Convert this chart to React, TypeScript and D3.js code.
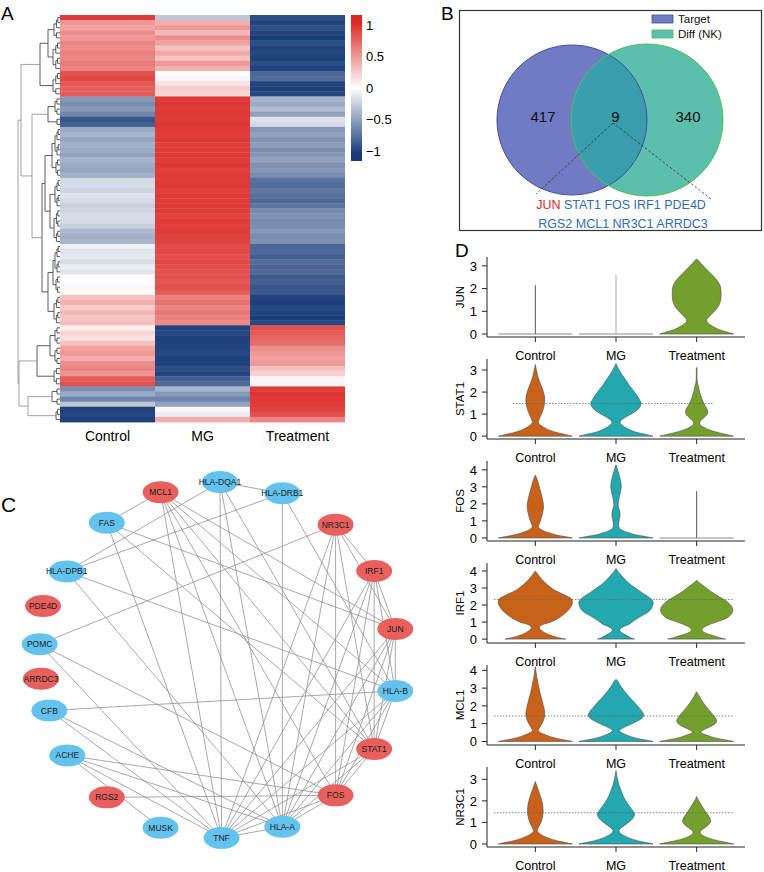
import React from 'react';
import * as d3 from 'd3';

const FONT = "'Liberation Sans', Arial, Helvetica, sans-serif";

// ---------------- Panel A : heatmap ----------------
const HM_GROUPS = ['Control', 'MG', 'Treatment'];
const HM_CONTROL = [
  0.95,
  0.5, 0.45, 0.55, 0.5, 0.6, 0.55, 0.62, 0.58, 0.65, 0.6,
  0.85, 0.9, 0.82, 0.78, 0.8,
  -0.55, -0.6, -0.55, -0.65, -0.9, -0.85,
  -0.45, -0.4, -0.48, -0.42, -0.45, -0.5, -0.4, -0.45, -0.48, -0.42,
  -0.2, -0.18, -0.22, -0.15, -0.2, -0.25, -0.22, -0.18, -0.2, -0.25, -0.38, -0.42, -0.4,
  -0.08, -0.15, -0.12, -0.18, -0.1, -0.14,
  0.03, 0, 0.05, 0.02,
  0.3, 0.38, 0.25, 0.35, 0.28, 0.32,
  0.08, 0.2, 0.15, 0.3,
  0.45, 0.5, 0.4, 0.55, 0.6, 0.52, 0.8, 0.85,
  -0.6, -0.45, -0.65, -0.3,
  -1.0, -0.98, -1.02,
];
const HM_MG = [
  -0.3,
  0.4, 0.5, 0.35, 0.55, 0.45, 0.3, 0.42, 0.3, 0.5, 0.38,
  0.02, -0.05, 0.15, 0.25, 0.2,
  0.95, 0.98, 0.95, 0.97, 0.95, 0.98,
  0.96, 0.95, 0.98, 0.94, 0.96, 0.97, 0.95, 0.98, 0.94, 0.96,
  0.95, 0.97, 0.94, 0.96, 0.95, 0.97, 0.95, 0.93, 0.96, 0.94, 0.95, 0.93, 0.92,
  0.88, 0.9, 0.86, 0.9, 0.87, 0.85,
  0.85, 0.82, 0.86, 0.8,
  0.62, 0.68, 0.6, 0.66, 0.62, 0.58,
  -1.0, -0.98, -1.02, -1.0,
  -1.0, -0.98, -1.02, -1.0, -0.95, -1.0, -0.85, -0.8,
  -0.4, -0.55, -0.65, -0.5,
  0.05, -0.1, 0.4,
];
const HM_TREAT = [
  -0.95,
  -1.0, -0.95, -1.0, -1.05, -0.95, -1.0, -0.98, -1.02, -0.95, -1.0,
  -0.8, -0.78, -1.0, -1.02, -0.98,
  -0.4, -0.45, -0.35, -0.5, -0.15, -0.2,
  -0.55, -0.5, -0.58, -0.52, -0.6, -0.55, -0.5, -0.58, -0.55, -0.6,
  -0.75, -0.78, -0.72, -0.76, -0.8, -0.74, -0.62, -0.58, -0.62, -0.6, -0.55, -0.6, -0.58,
  -0.82, -0.8, -0.85, -0.78, -0.82, -0.8,
  -0.88, -0.85, -0.9, -0.88,
  -1.0, -1.02, -0.98, -1.0, -1.03, -0.98,
  0.85, 0.8, 0.75, 0.72,
  0.55, 0.5, 0.45, 0.5, 0.3, 0.22, 0.05, -0.05,
  0.95, 0.98, 0.96, 0.95,
  0.92, 0.85, 0.6,
];
const HM_COLUMNS = [HM_CONTROL, HM_MG, HM_TREAT];
const CB_TICKS = [1, 0.5, 0, -0.5, -1];
const CB_LABELS = ['1', '0.5', '0', '\u22120.5', '\u22121'];

// dendrogram: merge heights, leaf blocks [firstRow, lastRow, height]
type DN = { h: number; c?: DN[]; row?: number };
const blk = (a: number, e: number, h: number): DN => {
  if (a === e) return { h: 0, row: a };
  const m = Math.floor((a + e) / 2);
  return { h, c: [blk(a, m, h * 0.6), blk(m + 1, e, h * 0.6)] };
};
const nd = (h: number, c: DN[]): DN => ({ h, c });
const DENDRO: DN = nd(42, [
  nd(39, [
    nd(20, [nd(12, [blk(0, 4, 6), blk(5, 10, 7)]), blk(11, 15, 7)]),
    nd(28, [
      nd(12, [blk(16, 19, 5), blk(20, 21, 3)]),
      nd(18, [
        nd(15, [nd(8, [blk(22, 27, 5), blk(28, 31, 4)]), nd(10, [blk(32, 37, 5), blk(38, 44, 6)])]),
        nd(12, [nd(7, [blk(45, 50, 5), blk(51, 54, 4)]), blk(55, 60, 6)]),
      ]),
    ]),
  ]),
  nd(41, [
    nd(23, [nd(10, [blk(61, 64, 5), blk(65, 68, 5)]), blk(69, 72, 6)]),
    nd(32, [nd(8, [blk(73, 74, 3), blk(75, 76, 3)]), blk(77, 79, 4)]),
  ]),
]);

// ---------------- Panel B : venn ----------------
const VENN_SETS = ['Target', 'Diff (NK)'];
const VENN_COUNTS = [417, 9, 340];
const VENN_GENES_1 = ['JUN', 'STAT1', 'FOS', 'IRF1', 'PDE4D'];
const VENN_GENES_2 = ['RGS2', 'MCL1', 'NR3C1', 'ARRDC3'];

// ---------------- Panel C : network ----------------
// name, angle on layout circle (deg, clockwise from +x), radius, kind
const NET_NODES: [string, number, number, string][] = [
  ['HLA-DQA1', -90, 178, 'b'],
  ['HLA-DRB1', -69.5, 178, 'b'],
  ['NR3C1', -49.5, 178, 'r'],
  ['IRF1', -30, 178, 'r'],
  ['JUN', -10, 178, 'r'],
  ['HLA-B', 10, 178, 'b'],
  ['STAT1', 30, 178, 'r'],
  ['FOS', 49.5, 178, 'r'],
  ['HLA-A', 69.5, 178, 'b'],
  ['TNF', 89.5, 178, 'b'],
  ['MUSK', 109.5, 178, 'b'],
  ['RGS2', 129.5, 178, 'r'],
  ['ACHE', 148, 180, 'b'],
  ['CFB', 163.5, 178, 'b'],
  ['ARRDC3', 174, 180, 'r'],
  ['POMC', 185, 181, 'b'],
  ['PDE4D', 197, 185, 'r'],
  ['HLA-DPB1', 210, 177, 'b'],
  ['FAS', 230.5, 178, 'b'],
  ['MCL1', 250.5, 178, 'r'],
];
const NET_EDGES: [string, string][] = [
  ['MCL1', 'FAS'], ['HLA-DQA1', 'HLA-DRB1'], ['HLA-DQA1', 'HLA-DPB1'], ['HLA-DRB1', 'HLA-DPB1'],
  ['HLA-DQA1', 'TNF'], ['HLA-DQA1', 'HLA-A'], ['HLA-DQA1', 'STAT1'], ['HLA-DRB1', 'HLA-A'], ['HLA-DRB1', 'HLA-B'],
  ['HLA-DPB1', 'HLA-A'], ['HLA-DPB1', 'HLA-B'], ['MCL1', 'TNF'], ['MCL1', 'HLA-A'], ['MCL1', 'FOS'],
  ['MCL1', 'STAT1'], ['MCL1', 'JUN'], ['MCL1', 'HLA-B'], ['FAS', 'TNF'], ['FAS', 'JUN'], ['FAS', 'STAT1'],
  ['POMC', 'NR3C1'], ['POMC', 'TNF'], ['POMC', 'FOS'], ['CFB', 'HLA-B'], ['CFB', 'HLA-A'], ['CFB', 'TNF'],
  ['ACHE', 'FOS'], ['ACHE', 'TNF'], ['ACHE', 'HLA-A'], ['ACHE', 'MUSK'], ['RGS2', 'FOS'],
  ['NR3C1', 'IRF1'], ['NR3C1', 'JUN'], ['NR3C1', 'FOS'], ['NR3C1', 'STAT1'], ['NR3C1', 'HLA-A'], ['NR3C1', 'TNF'],
  ['IRF1', 'JUN'], ['IRF1', 'HLA-B'], ['IRF1', 'STAT1'], ['IRF1', 'FOS'], ['IRF1', 'HLA-A'], ['IRF1', 'TNF'],
  ['JUN', 'HLA-B'], ['JUN', 'STAT1'], ['JUN', 'FOS'], ['JUN', 'HLA-A'], ['JUN', 'TNF'],
  ['HLA-B', 'STAT1'], ['HLA-B', 'FOS'], ['HLA-B', 'HLA-A'], ['HLA-B', 'TNF'],
  ['STAT1', 'FOS'], ['STAT1', 'HLA-A'], ['STAT1', 'TNF'], ['FOS', 'HLA-A'], ['FOS', 'TNF'], ['HLA-A', 'TNF'],
];

// ---------------- Panel D : violins ----------------
const VIO_GROUPS = ['Control', 'MG', 'Treatment'];
const VIO_GENES = ['JUN', 'STAT1', 'FOS', 'IRF1', 'MCL1', 'NR3C1'];
const VIO_YMIN = [-0.13, -0.13, -0.18, -0.23, -0.2, -0.14];
const VIO_YMAX = [3.39, 3.5, 4.52, 4.47, 4.3, 3.57];
const VIO_TICKS = [[0, 1, 2, 3], [0, 1, 2, 3], [0, 1, 2, 3, 4], [0, 1, 2, 3, 4], [0, 1, 2, 3, 4], [0, 1, 2, 3]];
const VIO_REFLINE: (number | null)[] = [null, 1.48, null, 2.33, 1.43, 1.45];
// profiles: [expression, relative half-width]; a plain number = all zeros with a single max value
const JUN_T = [[0, 1], [0.1, 0.8], [0.2, 0.6], [0.35, 0.42], [0.5, 0.3], [0.62, 0.27], [0.75, 0.33], [0.95, 0.45], [1.2, 0.58], [1.5, 0.65], [1.8, 0.66], [2.1, 0.64], [2.3, 0.58], [2.5, 0.48], [2.7, 0.36], [2.9, 0.24], [3.1, 0.12], [3.25, 0.04], [3.3, 0]];
const STAT1_C = [[0, 1], [0.1, 0.75], [0.2, 0.5], [0.35, 0.28], [0.5, 0.14], [0.62, 0.08], [0.75, 0.1], [0.95, 0.15], [1.2, 0.21], [1.5, 0.25], [1.8, 0.25], [2.1, 0.2], [2.4, 0.13], [2.7, 0.07], [3.0, 0.03], [3.25, 0]];
const STAT1_M = [[0, 1], [0.1, 0.75], [0.2, 0.5], [0.35, 0.3], [0.5, 0.16], [0.62, 0.11], [0.75, 0.16], [0.9, 0.3], [1.1, 0.5], [1.3, 0.64], [1.5, 0.68], [1.7, 0.62], [2.0, 0.5], [2.3, 0.36], [2.6, 0.24], [2.9, 0.12], [3.15, 0.04], [3.3, 0]];
const STAT1_T = [[0, 1], [0.1, 0.75], [0.2, 0.5], [0.35, 0.25], [0.5, 0.1], [0.6, 0.08], [0.75, 0.14], [0.9, 0.24], [1.05, 0.3], [1.2, 0.29], [1.4, 0.22], [1.7, 0.14], [2.0, 0.08], [2.3, 0.04], [2.5, 0.015], [3.1, 0.006], [3.12, 0]];
const FOS_C = [[0, 1], [0.1, 0.75], [0.2, 0.52], [0.35, 0.3], [0.5, 0.15], [0.65, 0.08], [0.8, 0.1], [1.1, 0.15], [1.5, 0.2], [1.8, 0.22], [2.1, 0.21], [2.5, 0.17], [2.9, 0.12], [3.3, 0.07], [3.55, 0.03], [3.7, 0]];
const FOS_M = [[0, 1], [0.1, 0.75], [0.2, 0.5], [0.35, 0.28], [0.5, 0.13], [0.62, 0.08], [0.8, 0.07], [1.1, 0.09], [1.4, 0.11], [1.65, 0.09], [1.9, 0.06], [2.2, 0.07], [2.6, 0.11], [3.0, 0.14], [3.4, 0.12], [3.8, 0.07], [4.1, 0.03], [4.3, 0]];
const IRF1_C = [[0, 0.82], [0.1, 0.6], [0.25, 0.38], [0.45, 0.2], [0.65, 0.11], [0.8, 0.15], [1.0, 0.42], [1.2, 0.6], [1.5, 0.8], [1.8, 0.93], [2.1, 1.0], [2.35, 0.98], [2.6, 0.78], [2.9, 0.5], [3.2, 0.32], [3.5, 0.18], [3.8, 0.07], [4.0, 0]];
const IRF1_M = [[0, 0.5], [0.1, 0.38], [0.25, 0.25], [0.4, 0.14], [0.55, 0.1], [0.7, 0.18], [0.9, 0.38], [1.1, 0.5], [1.35, 0.68], [1.6, 0.88], [1.9, 0.98], [2.2, 1.0], [2.45, 0.9], [2.7, 0.72], [3.0, 0.52], [3.3, 0.34], [3.6, 0.2], [3.9, 0.08], [4.15, 0]];
const IRF1_T = [[0, 0.78], [0.1, 0.6], [0.25, 0.38], [0.4, 0.2], [0.55, 0.14], [0.7, 0.2], [0.9, 0.4], [1.1, 0.66], [1.3, 0.86], [1.6, 0.97], [1.9, 0.95], [2.2, 0.82], [2.5, 0.6], [2.8, 0.38], [3.1, 0.2], [3.3, 0.08], [3.45, 0]];
const MCL1_C = [[0, 1], [0.1, 0.75], [0.2, 0.52], [0.35, 0.3], [0.5, 0.14], [0.62, 0.08], [0.8, 0.12], [1.1, 0.2], [1.4, 0.25], [1.7, 0.25], [2.0, 0.22], [2.4, 0.17], [2.8, 0.12], [3.2, 0.08], [3.6, 0.04], [4.0, 0.015], [4.2, 0]];
const MCL1_M = [[0, 1], [0.1, 0.75], [0.2, 0.52], [0.35, 0.3], [0.5, 0.15], [0.62, 0.1], [0.75, 0.18], [0.95, 0.38], [1.15, 0.58], [1.35, 0.72], [1.5, 0.75], [1.7, 0.7], [2.0, 0.58], [2.3, 0.45], [2.6, 0.32], [2.9, 0.2], [3.2, 0.1], [3.4, 0.04], [3.5, 0]];
const MCL1_T = [[0, 1], [0.1, 0.75], [0.2, 0.5], [0.35, 0.28], [0.5, 0.12], [0.62, 0.16], [0.8, 0.34], [1.0, 0.5], [1.15, 0.54], [1.35, 0.5], [1.6, 0.4], [1.9, 0.28], [2.2, 0.17], [2.5, 0.08], [2.7, 0.03], [2.8, 0]];
const NR3C1_C = [[0, 1], [0.1, 0.72], [0.2, 0.48], [0.35, 0.25], [0.5, 0.1], [0.6, 0.05], [0.75, 0.08], [1.0, 0.15], [1.3, 0.2], [1.6, 0.21], [1.9, 0.19], [2.2, 0.14], [2.5, 0.08], [2.75, 0.03], [2.9, 0]];
const NR3C1_M = [[0, 1], [0.1, 0.72], [0.2, 0.48], [0.35, 0.26], [0.5, 0.12], [0.62, 0.08], [0.8, 0.18], [1.0, 0.34], [1.2, 0.46], [1.4, 0.5], [1.6, 0.43], [1.9, 0.3], [2.2, 0.2], [2.5, 0.13], [2.8, 0.07], [3.1, 0.03], [3.4, 0]];
const NR3C1_T = [[0, 1], [0.1, 0.72], [0.2, 0.46], [0.35, 0.22], [0.5, 0.1], [0.62, 0.12], [0.8, 0.26], [1.0, 0.37], [1.15, 0.37], [1.35, 0.3], [1.6, 0.2], [1.85, 0.11], [2.05, 0.04], [2.2, 0]];
const VIO_DATA: (number[][] | number)[][] = [
  [2.15, 2.6, JUN_T],
  [STAT1_C, STAT1_M, STAT1_T],
  [FOS_C, FOS_M, 2.75],
  [IRF1_C, IRF1_M, IRF1_T],
  [MCL1_C, MCL1_M, MCL1_T],
  [NR3C1_C, NR3C1_M, NR3C1_T],
];

// ======================================================
function PanelA() {
  const hx = d3.scaleBand<string>().domain(HM_GROUPS).range([60, 345]);
  const nRows = HM_CONTROL.length;
  const hy = d3.scaleBand<number>().domain(d3.range(nRows)).range([15, 422]);
  const color = d3.scaleLinear<string>().domain([-1.05, 0, 1.05]).range(['#173a78', '#ffffff', '#dc2824']).clamp(true);
  const cb = d3.scaleLinear().domain([1, -1]).range([25, 151]);
  const stops = d3.range(0, 1.0001, 0.05).map(t => {
    const v = cb.invert(15 + t * (161 - 15));
    return { off: t, c: color(v) };
  });
  // dendrogram
  const dx = d3.scaleLinear().domain([0, 42]).range([60, 18]);
  const segs: [number, number, number, number, boolean][] = [];
  const lay = (n: DN): { x: number; y: number } => {
    if (n.row !== undefined) return { x: dx(0), y: (hy(n.row) as number) + hy.bandwidth() / 2 };
    const ch = n.c!.map(lay);
    const x = dx(n.h);
    const y0 = ch[0].y, y1 = ch[ch.length - 1].y;
    const top = n.h >= 28;
    segs.push([x, y0, x, y1, top]);
    ch.forEach(c => segs.push([x, c.y, c.x, c.y, top]));
    return { x, y: (y0 + y1) / 2 };
  };
  lay(DENDRO);
  return (
    <g>
      <text x={1} y={20} fontSize={19} fontFamily={FONT}>A</text>
      {HM_COLUMNS.map((col, ci) =>
        col.map((v, ri) => (
          <rect key={ci + '-' + ri} x={hx(HM_GROUPS[ci])} y={hy(ri)} width={hx.bandwidth()} height={hy.bandwidth() + 0.4} fill={color(v)} />
        ))
      )}
      {segs.map((s, i) => (
        <line key={i} x1={s[0]} y1={s[1]} x2={s[2]} y2={s[3]} stroke={s[4] ? '#8a8a8a' : '#333'} strokeWidth={0.8} />
      ))}
      {HM_GROUPS.map(g => (
        <text key={g} x={(hx(g) as number) + hx.bandwidth() / 2} y={441} fontSize={14} textAnchor="middle" fontFamily={FONT}>{g}</text>
      ))}
      <defs>
        <linearGradient id="cbgrad" x1="0" y1="0" x2="0" y2="1">
          {stops.map((s, i) => <stop key={i} offset={s.off} stopColor={s.c} />)}
        </linearGradient>
      </defs>
      <rect x={351} y={15} width={11} height={146} fill="url(#cbgrad)" />
      {CB_TICKS.map((t, i) => (
        <text key={i} x={366} y={cb(t)} dy="0.35em" fontSize={13} fontFamily={FONT}>{CB_LABELS[i]}</text>
      ))}
    </g>
  );
}

function PanelB() {
  const lc = { x: 572, y: 120, r: 75 };
  const rc = { x: 647, y: 120, r: 76 };
  const gx = d3.scalePoint<number>().domain([0, 1, 2]).range([543, 688]);
  return (
    <g fontFamily={FONT}>
      <text x={441} y={20} fontSize={19}>B</text>
      <rect x={459.5} y={10.5} width={302} height={220} fill="none" stroke="#333" strokeWidth={1.2} />
      <defs>
        <clipPath id="leftclip"><circle cx={lc.x} cy={lc.y} r={lc.r} /></clipPath>
      </defs>
      <circle cx={lc.x} cy={lc.y} r={lc.r} fill="#6f7cc4" />
      <circle cx={rc.x} cy={rc.y} r={rc.r} fill="#5cbfae" />
      <circle cx={rc.x} cy={rc.y} r={rc.r} fill="#3a9dad" clipPath="url(#leftclip)" />
      <circle cx={lc.x} cy={lc.y} r={lc.r} fill="none" stroke="#3f4ea3" strokeWidth={1} />
      <circle cx={rc.x} cy={rc.y} r={rc.r} fill="none" stroke="#4fbf50" strokeWidth={1} />
      {VENN_COUNTS.map((c, i) => (
        <text key={i} x={gx(i)} y={122} fontSize={15} textAnchor="middle" fill="#111">{c}</text>
      ))}
      <line x1={613} y1={123} x2={536} y2={194} stroke="#333" strokeWidth={0.8} strokeDasharray="2.5,2" />
      <line x1={613} y1={123} x2={711} y2={199} stroke="#333" strokeWidth={0.8} strokeDasharray="2.5,2" />
      <text x={621} y={209} fontSize={12.5} textAnchor="middle">
        {VENN_GENES_1.map((g, i) => (
          <tspan key={g} fill={g === 'JUN' ? '#e4262b' : '#2f6db5'}>{(i ? ' ' : '') + g}</tspan>
        ))}
      </text>
      <text x={623} y={228} fontSize={12.5} textAnchor="middle" fill="#2f6db5">{VENN_GENES_2.join(' ')}</text>
      <rect x={652} y={15} width={21} height={8} fill="#6f7cc4" stroke="#3f4ea3" strokeWidth={0.8} />
      <rect x={652} y={30} width={21} height={8} fill="#5cbfae" stroke="#4fbf50" strokeWidth={0.8} />
      <text x={678} y={23} fontSize={11.5} fill="#111">{VENN_SETS[0]}</text>
      <text x={678} y={38} fontSize={11.5} fill="#111">{VENN_SETS[1]}</text>
    </g>
  );
}

function PanelC() {
  const cx = 220, cy = 660;
  const pos = new Map<string, [number, number]>();
  NET_NODES.forEach(([name, a, r]) => {
    const p = d3.pointRadial(((a + 90) * Math.PI) / 180, r);
    pos.set(name, [cx + p[0], cy + p[1]]);
  });
  return (
    <g fontFamily={FONT}>
      <text x={1} y={512} fontSize={21}>C</text>
      {NET_EDGES.map(([a, b], i) => {
        const p = pos.get(a)!, q = pos.get(b)!;
        return <line key={i} x1={p[0]} y1={p[1]} x2={q[0]} y2={q[1]} stroke="#8c8c8c" strokeWidth={0.75} />;
      })}
      {NET_NODES.map(([name, , , k]) => {
        const p = pos.get(name)!;
        return (
          <g key={name}>
            <ellipse cx={p[0]} cy={p[1]} rx={18} ry={11} fill={k === 'r' ? '#e8605e' : '#63c3ee'} />
            <text x={p[0]} y={p[1]} dy="0.35em" fontSize={8.5} textAnchor="middle" fill="#1a1a1a">{name}</text>
          </g>
        );
      })}
    </g>
  );
}

function PanelD() {
  const xb = d3.scaleBand<string>().domain(VIO_GROUPS).range([495, 737]);
  const wScale = d3.scaleLinear().domain([0, 1]).range([0, 37]);
  const colors = ['#c8621b', '#22a8ae', '#73a02d'];
  const spikeCol = ['#555', '#aaa', '#555'];
  return (
    <g fontFamily={FONT}>
      <text x={455} y={257} fontSize={19}>D</text>
      {VIO_GENES.map((gene, gi) => {
        const top = 257 + gi * 102;
        const bottom = top + 80;
        const ys = d3.scaleLinear().domain([VIO_YMIN[gi], VIO_YMAX[gi]]).range([bottom, top]);
        return (
          <g key={gene}>
            {VIO_DATA[gi].map((d, k) => {
              const cxv = (xb(VIO_GROUPS[k]) as number) + xb.bandwidth() / 2;
              if (typeof d === 'number') {
                return (
                  <g key={k}>
                    <line x1={cxv - wScale(1)} x2={cxv + wScale(1)} y1={ys(0)} y2={ys(0)} stroke="#b0b0b0" strokeWidth={1.6} />
                    <line x1={cxv} x2={cxv} y1={ys(0)} y2={ys(d)} stroke={spikeCol[k]} strokeWidth={1} />
                  </g>
                );
              }
              const area = d3.area<number[]>()
                .y(p => ys(p[0]))
                .x0(p => cxv - wScale(p[1]))
                .x1(p => cxv + wScale(p[1]))
                .curve(d3.curveCatmullRom);
              return <path key={k} d={area(d) || ''} fill={colors[k]} stroke="#4a4a4a" strokeWidth={0.6} />;
            })}
            {VIO_REFLINE[gi] !== null && (
              <line x1={gi === 1 ? 513 : 494} x2={gi === 1 ? 714 : 733} y1={ys(VIO_REFLINE[gi] as number)} y2={ys(VIO_REFLINE[gi] as number)} stroke="#666" strokeWidth={0.8} strokeDasharray="1.5,1.5" />
            )}
            <line x1={487} x2={487} y1={top} y2={bottom} stroke="#222" strokeWidth={1} />
            <line x1={487} x2={745} y1={bottom} y2={bottom} stroke="#222" strokeWidth={1} />
            {VIO_TICKS[gi].map(t => (
              <g key={t}>
                <line x1={482} x2={487} y1={ys(t)} y2={ys(t)} stroke="#222" strokeWidth={1} />
                <text x={477} y={ys(t)} dy="0.36em" fontSize={13} textAnchor="end">{t}</text>
              </g>
            ))}
            {VIO_GROUPS.map(g => {
              const cxv = (xb(g) as number) + xb.bandwidth() / 2;
              return (
                <g key={g}>
                  <line x1={cxv} x2={cxv} y1={bottom} y2={bottom + 5} stroke="#222" strokeWidth={1} />
                  <text x={cxv} y={bottom + 22.5} fontSize={12.5} textAnchor="middle">{g}</text>
                </g>
              );
            })}
            <text transform={`translate(464,${top + 40}) rotate(-90)`} fontSize={11.5} textAnchor="middle">{gene}</text>
          </g>
        );
      })}
    </g>
  );
}

export default function App() {
  return (
    <svg width={764} height={872} style={{ position: 'absolute', left: 0, top: 0, background: '#fff' }} fontFamily={FONT}>
      <rect width={764} height={872} fill="#fff" />
      <PanelA />
      <PanelB />
      <PanelC />
      <PanelD />
    </svg>
  );
}
